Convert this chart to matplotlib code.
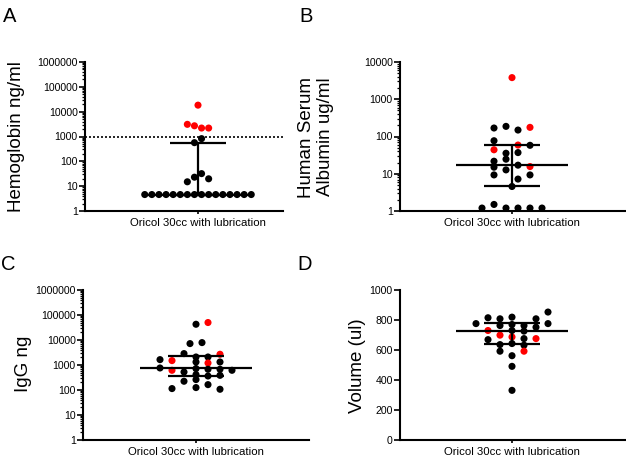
import numpy as np
import matplotlib
matplotlib.use("Agg")
import matplotlib.pyplot as plt
from matplotlib.ticker import FixedLocator, FuncFormatter, LogLocator, NullFormatter

plt.rcParams['font.family'] = ['Liberation Sans', 'DejaVu Sans']

# ---------------- data ----------------
category = "Oricol 30cc with lubrication"

# Panel A: Hemoglobin ng/ml
a_values = [18300, 3090, 2700, 2190, 2190, 820, 565, 32, 23, 15, 19.8,
            4.6, 4.6, 4.6, 4.6, 4.6, 4.6, 4.6, 4.6, 4.6, 4.6, 4.6, 4.6, 4.6, 4.6, 4.6, 4.6]
a_slots = [0, -1.5, -0.5, 0.5, 1.5, 0.5, -0.5, 0.5, -0.5, -1.5, 1.5,
           -7.5, -6.5, -5.5, -4.5, -3.5, -2.5, -1.5, -0.5, 0.5, 1.5, 2.5, 3.5, 4.5, 5.5, 6.5, 7.5]
a_red = [1, 1, 1, 1, 1, 0, 0, 0, 0, 0, 0,
         0, 0, 0, 0, 0, 0, 0, 0, 0, 0, 0, 0, 0, 0, 0, 0]
a_summary = [4.6, 4.6, 560]     # median, lower quartile, upper quartile
a_threshold = 1000

# Panel B: Human Serum Albumin ug/ml
b_values = [3810, 169, 187, 149, 176, 77, 44, 59, 58, 35.5, 37, 21.7, 15, 9.3,
            24.6, 12.7, 17, 7.2, 15.6, 9.3, 4.55, 1.2, 1.5, 1.2, 1.2, 1.2, 1.2]
b_slots = [0, -1.5, -0.5, 0.5, 1.5, -1.5, -1.5, 0.5, 1.5, -0.5, 0.5, -1.5, -1.5, -1.5,
           -0.5, -0.5, 0.5, 0.5, 1.5, 1.5, 0, -2.5, -1.5, -0.5, 0.5, 1.5, 2.5]
b_red = [1, 0, 0, 0, 1, 0, 1, 1, 0, 0, 0, 0, 0, 0,
         0, 0, 0, 0, 1, 0, 0, 0, 0, 0, 0, 0, 0]
b_summary = [17, 4.55, 59]

# Panel C: IgG ng
c_values = [42600, 50000, 7180, 7870,
            2860, 2090, 2090, 2690,
            1640, 1500, 1320, 1200, 1320,
            760, 614, 525, 718, 675, 675, 614,
            413, 363, 386,
            224, 261, 164,
            114, 125, 107]
c_slots = [0, 1, -0.5, 0.5,
           -1, 0, 1, 2,
           -3, -2, 0, 1, 2,
           -3, -2, -1, 0, 1, 2, 3,
           0, 1, 2,
           -1, 0, 1,
           -2, 0, 2]
c_red = [0, 1, 0, 0,
         0, 0, 0, 1,
         0, 1, 0, 1, 0,
         0, 1, 0, 0, 0, 0, 0,
         0, 0, 0,
         0, 0, 0,
         0, 0, 0]
c_summary = [760, 360, 2200]

# Panel D: Volume (ul)
d_values = [776, 815, 808, 819, 808, 853, 776,
            763, 770, 763, 752,
            730, 730, 726,
            699, 687, 669, 676, 676,
            636, 643, 632,
            592, 592,
            562, 491, 331]
d_slots = [-3, -2, -1, 0, 2, 3, 3,
           -1, 0, 1, 2,
           -2, 0, 1,
           -1, 0, -2, 1, 2,
           -1, 0, 1,
           -1, 1,
           0, 0, 0]
d_red = [0, 0, 0, 0, 0, 0, 0,
         0, 0, 0, 0,
         1, 0, 0,
         1, 1, 0, 0, 1,
         0, 0, 0,
         0, 1,
         0, 0, 0]
d_summary = [730, 638, 781]

log_ticks_6 = [1, 10, 100, 1000, 10000, 100000, 1000000]
log_ticks_4 = [1, 10, 100, 1000, 10000]
lin_ticks = [0, 200, 400, 600, 800, 1000]

# ---------------- layout ----------------
W, H = 626, 457
fig = plt.figure(figsize=(W / 100, H / 100), dpi=100)


def make_ax(left, right, top, bottom):
    return fig.add_axes([left / W, 1 - bottom / H, (right - left) / W, (bottom - top) / H])


axA = make_ax(85, 283, 62, 211)
axB = make_ax(400, 625, 62, 211)
axC = make_ax(83, 309, 290, 440)
axD = make_ax(400, 625, 290, 440)

RED = '#ff0000'
BLACK = '#000000'
TICK_FS = 7.6
XLAB_FS = 8.2
YLAB_FS = 13.5


def style(ax, xlim, log, ylim, ticks):
    for s in ['top', 'right']:
        ax.spines[s].set_visible(False)
    for s in ['left', 'bottom']:
        ax.spines[s].set_linewidth(1.5)
    ax.set_xlim(*xlim)
    if log:
        ax.set_yscale('log')
    ax.set_ylim(*ylim)
    ax.yaxis.set_major_locator(FixedLocator(ticks))
    ax.yaxis.set_major_formatter(FuncFormatter(lambda v, p: f"{int(round(v))}"))
    if log:
        ax.yaxis.set_minor_locator(LogLocator(base=10, subs=np.arange(2, 10)))
        ax.yaxis.set_minor_formatter(NullFormatter())
        ax.tick_params(axis='y', which='minor', length=2.2, width=0.9)
    ax.set_xticks([0])
    ax.set_xticklabels([category], fontsize=XLAB_FS)
    ax.tick_params(axis='y', which='major', length=4, width=1.2, pad=1.2, labelsize=TICK_FS)
    ax.tick_params(axis='x', which='major', length=2.5, width=1.2, pad=2.5)
    ax.patch.set_visible(False)


def draw(ax, values, slots, red, summary, spacing, half_wide=56, half_narrow=28):
    xs = np.array(slots) * spacing
    cols = [RED if r else BLACK for r in red]
    ax.scatter(xs, values, s=26, c=cols, linewidths=0, zorder=3, clip_on=False)
    med, q1, q3 = summary
    lw = 1.6
    ax.plot([-half_wide, half_wide], [med, med], color=BLACK, lw=lw, zorder=4, solid_capstyle='butt')
    ax.plot([-half_narrow, half_narrow], [q1, q1], color=BLACK, lw=lw, zorder=4, solid_capstyle='butt')
    ax.plot([-half_narrow, half_narrow], [q3, q3], color=BLACK, lw=lw, zorder=4, solid_capstyle='butt')
    ax.plot([0, 0], [q1, q3], color=BLACK, lw=lw, zorder=4, solid_capstyle='butt')


# Panel A
style(axA, (-113, 85), True, (1, 1000000), log_ticks_6)
draw(axA, a_values, a_slots, a_red, a_summary, 7.1)
axA.axhline(a_threshold, color=BLACK, lw=1.2, linestyle=(0, (1.2, 1.2)), zorder=2)

# Panel B
style(axB, (-112, 113), True, (1, 10000), log_ticks_4)
draw(axB, b_values, b_slots, b_red, b_summary, 12)

# Panel C
style(axC, (-113, 113), True, (1, 1000000), log_ticks_6)
draw(axC, c_values, c_slots, c_red, c_summary, 12)

# Panel D
style(axD, (-112, 113), False, (0, 1000), lin_ticks)
draw(axD, d_values, d_slots, d_red, d_summary, 12)

# y labels (placed by pixel centre)
def ylab(x, y, text, ls=1.0):
    fig.text(x / W, 1 - y / H, text, rotation=90, ha='center', va='center',
             fontsize=YLAB_FS, linespacing=ls)

ylab(17, 137, "Hemoglobin ng/ml")
ylab(316, 137, "Human Serum\nAlbumin ug/ml", ls=1.15)
ylab(23, 364, "IgG ng")
ylab(357, 366, "Volume (ul)")

# panel letters
for letter, x, yb in [("A", 3, 22), ("B", 299, 22), ("C", 1, 270), ("D", 297, 270)]:
    fig.text(x / W, 1 - yb / H, letter, fontsize=14.5, ha='left', va='baseline')

fig.savefig("out.png", dpi=100)
